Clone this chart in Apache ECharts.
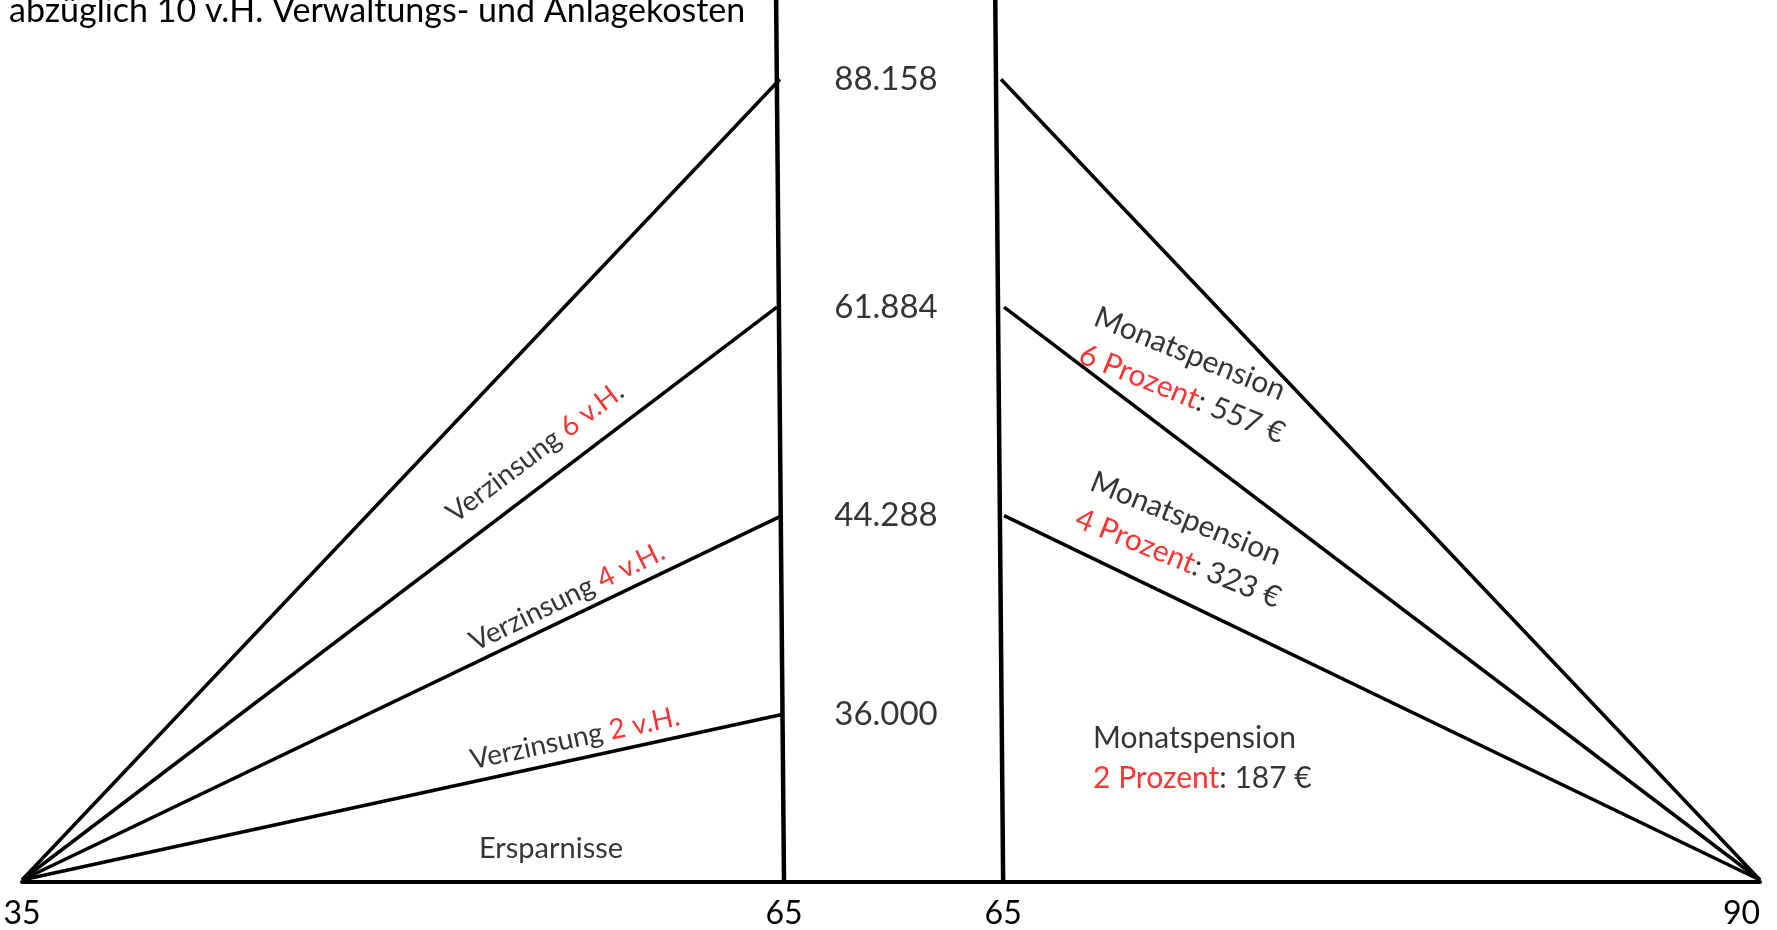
<!DOCTYPE html>
<html><head><meta charset="utf-8">
<script src="https://cdn.jsdelivr.net/npm/echarts@6/dist/echarts.min.js"></script>
<style>html,body{margin:0;padding:0;background:#fff}#c{width:1777px;height:930px}</style>
</head><body><div id="c"></div>
<script>
// ---- data ----
const titleText = 'abzüglich 10 v.H. Verwaltungs- und Anlagekosten';
const leftAgeTicks = [35, 65];
const rightAgeTicks = [65, 90];
const capitalLabels = ['88.158', '61.884', '44.288', '36.000'];
const capitalHeights = [91.0, 65.1, 41.4, 18.8];        // schematic heights (0..100)
const leftEndAge = [64.84, 64.72, 64.92, 64.92];         // where savings lines meet the 65 divider
const rightStartAge = [64.93, 65.03, 65.03];             // where payout lines leave the 65 divider
const dividerTopAge = [64.69, 64.74];                    // hand-drawn dividers lean slightly
const rates = ['6', '4', '2'];
const pensions = ['557', '323', '187'];
const savingsLabel = 'Ersparnisse';
const pensionWord = 'Monatspension';

// ---- chart ----
const BLACK = '#000', RED = '#ff0000', FONT = 'Lato';
const series = [];

capitalHeights.forEach((h, i) => {
  series.push({
    type: 'line', xAxisIndex: 0, yAxisIndex: 0, symbol: 'none', silent: true,
    data: [[leftAgeTicks[0], 0], [leftEndAge[i], h]],
    lineStyle: { color: BLACK, width: 3.5 }
  });
});
series.push({
  type: 'line', xAxisIndex: 0, yAxisIndex: 0, symbol: 'none', silent: true,
  data: [[dividerTopAge[0], 100], [leftAgeTicks[1], 0]],
  lineStyle: { color: BLACK, width: 4.5 }
});
series.push({
  type: 'line', xAxisIndex: 1, yAxisIndex: 1, symbol: 'none', silent: true,
  data: [[dividerTopAge[1], 100], [rightAgeTicks[0], 0]],
  lineStyle: { color: BLACK, width: 4.5 }
});
rightStartAge.forEach((a, i) => {
  series.push({
    type: 'line', xAxisIndex: 1, yAxisIndex: 1, symbol: 'none', silent: true,
    data: [[a, capitalHeights[i]], [rightAgeTicks[1], 0]],
    lineStyle: { color: BLACK, width: 3.5 }
  });
});

series.push({
  type: 'scatter', xAxisIndex: 0, yAxisIndex: 0, symbolSize: 0, silent: true, clip: false,
  itemStyle: { color: 'rgba(0,0,0,0)' },
  data: capitalHeights.map(h => [leftAgeTicks[1], h]),
  label: {
    show: true, position: 'inside', offset: [102, 0], color: BLACK,
    fontFamily: FONT, fontSize: 33,
    formatter: p => capitalLabels[p.dataIndex]
  }
});

const leftAnn = [
  { value: [55.2, 48.6], rotate: 37, text: 'Verzinsung {r|' + rates[0] + ' v.H}.' },
  { value: [56.46, 32.2], rotate: 26, text: 'Verzinsung {r|' + rates[1] + ' v.H.}' },
  { value: [56.77, 16.1], rotate: 12, text: 'Verzinsung {r|' + rates[2] + ' v.H.}' },
  { value: [55.83, 3.6], rotate: 0, text: savingsLabel, size: 29 }
];
series.push({
  type: 'scatter', xAxisIndex: 0, yAxisIndex: 0, symbolSize: 0, silent: true, clip: false,
  itemStyle: { color: 'rgba(0,0,0,0)' },
  data: leftAnn.map(a => ({
    value: a.value,
    label: {
      show: true, position: 'inside', rotate: a.rotate, formatter: a.text,
      color: BLACK, fontFamily: FONT, fontSize: a.size || 28,
      rich: { r: { color: RED, fontFamily: FONT, fontSize: a.size || 28 } }
    }
  }))
});

const rightAnn = [
  { value: [67.81, 62.0], rotate: -22 },
  { value: [67.68, 43.3], rotate: -22 },
  { value: [67.97, 13.8], rotate: 0 }
];
series.push({
  type: 'scatter', xAxisIndex: 1, yAxisIndex: 1, symbolSize: 0, silent: true, clip: false,
  itemStyle: { color: 'rgba(0,0,0,0)' },
  data: rightAnn.map((a, i) => ({
    value: a.value,
    label: {
      show: true, position: 'inside', rotate: a.rotate, align: 'left', verticalAlign: 'middle',
      formatter: pensionWord + '\n{r|' + rates[i] + ' Prozent}: ' + pensions[i] + ' €',
      color: BLACK, fontFamily: FONT, fontSize: 30, lineHeight: 40,
      rich: { r: { color: RED, fontFamily: FONT, fontSize: 30, lineHeight: 40 } }
    }
  }))
});

const hiddenY = (gi) => ({ type: 'value', gridIndex: gi, min: 0, max: 100, show: false });
const ageAxis = (gi, min, max, ticks) => ({
  type: 'value', gridIndex: gi, min: min, max: max,
  axisLine: { show: false }, axisTick: { show: false }, splitLine: { show: false },
  axisLabel: { customValues: ticks, color: BLACK, fontFamily: FONT, fontSize: 32, margin: 18 }
});

const rightAxis = ageAxis(1, 64.5, rightAgeTicks[1], rightAgeTicks);
rightAxis.axisLabel.alignMaxLabel = 'right';

const option = {
  animation: false,
  backgroundColor: '#fff',
  title: {
    text: titleText, left: 9, top: -6, padding: 0,
    textStyle: { fontFamily: FONT, fontSize: 34, fontWeight: 'normal', color: BLACK }
  },
  grid: [
    { left: 22, top: 0, width: 762, height: 882 },
    { left: 988, top: 0, width: 772, height: 882 },
    { left: 22, top: 0, right: 17, height: 882 }
  ],
  xAxis: [
    ageAxis(0, leftAgeTicks[0], leftAgeTicks[1], leftAgeTicks),
    rightAxis,
    { type: 'value', gridIndex: 2, min: 0, max: 1, axisLine: { show: true, lineStyle: { color: BLACK, width: 4 } },
      axisTick: { show: false }, axisLabel: { show: false }, splitLine: { show: false } }
  ],
  yAxis: [hiddenY(0), hiddenY(1), hiddenY(2)],
  series: series
};
const chart = echarts.init(document.getElementById('c'), null, { renderer: 'canvas' });
chart.setOption(option);
</script></body></html>
